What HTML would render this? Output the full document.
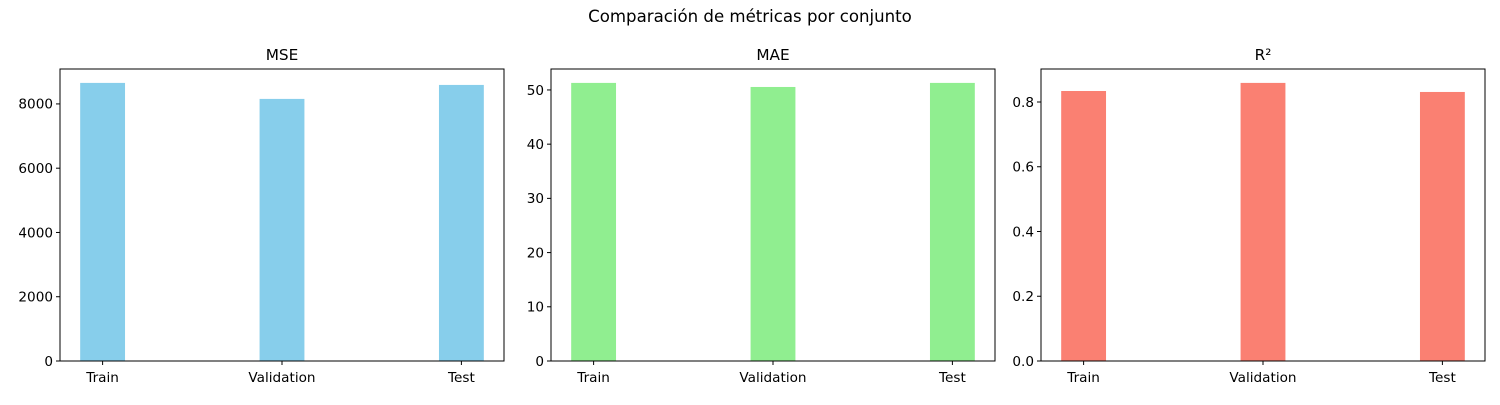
<!DOCTYPE html>
<html><head><meta charset="utf-8"><style>
body{margin:0;background:#fff;font-family:"Liberation Sans","DejaVu Sans",sans-serif}
svg text{font-family:"DejaVu Sans","Liberation Sans",sans-serif}
</style></head><body>
<svg id="c" width="1500" height="400" xmlns="http://www.w3.org/2000/svg">
<rect width="1500" height="400" fill="#fff"/>
<text x="750" y="22" text-anchor="middle" font-size="16.6" fill="#000">Comparación de métricas por conjunto</text>
</svg>
<script>
const categories = ["Train","Validation","Test"];
const mseValues = [8654, 8156, 8591];
const maeValues = [51.3, 50.55, 51.3];
const r2Values = [0.834, 0.859, 0.831];
const mseTicks = [0,2000,4000,6000,8000];
const maeTicks = [0,10,20,30,40,50];
const r2Ticks = [0,0.2,0.4,0.6,0.8];
const r2TickLabels = ["0.0","0.2","0.4","0.6","0.8"];

const svg = document.getElementById('c');
const NS = 'http://www.w3.org/2000/svg';
function mk(tag, attrs){const e=document.createElementNS(NS,tag);for(const k in attrs)e.setAttribute(k,attrs[k]);svg.appendChild(e);return e;}

function panel(x0, title, values, ticks, tickLabels, color, key){
  const x1 = x0 + 444, yTop = 69, yBot = 361;
  const ymax = Math.max(...values) * 1.05;
  const yS = v => yBot - v / ymax * (yBot - yTop);
  const xmin = -0.2375, xmax = 2.2375;
  const xS = v => x0 + (v - xmin) / (xmax - xmin) * (x1 - x0);
  values.forEach((v, i) => {
    const b = mk('rect', {x: xS(i - 0.125), y: yS(v), width: xS(i + 0.125) - xS(i - 0.125), height: yBot - yS(v), fill: color});
    
    
  });
  const fr = mk('rect', {x: x0, y: yTop, width: x1 - x0, height: yBot - yTop, fill: 'none', stroke: '#000', 'stroke-width': 1});
  
  
  ticks.forEach((t, i) => {
    const y = yS(t);
    mk('line', {x1: x0 - 4, x2: x0, y1: y, y2: y, stroke: '#000'});
    const tx = mk('text', {x: x0 - 7, y: y + 4.8, 'text-anchor': 'end', 'font-size': 13.6, fill: '#000'});
    tx.textContent = tickLabels ? tickLabels[i] : String(t);
    
    
  });
  categories.forEach((c, i) => {
    const x = xS(i);
    mk('line', {x1: x, x2: x, y1: yBot, y2: yBot + 4, stroke: '#000'});
    const tx = mk('text', {x: x, y: yBot + 21, 'text-anchor': 'middle', 'font-size': 13.6, fill: '#000'});
    tx.textContent = c;
    
    
  });
  const tt = mk('text', {x: (x0 + x1) / 2, y: 60, 'text-anchor': 'middle', 'font-size': 15.3, fill: '#000'});
  tt.textContent = title;
  
  
}
panel(60, 'MSE', mseValues, mseTicks, null, '#87ceeb', 'mse');
panel(551, 'MAE', maeValues, maeTicks, null, '#90ee90', 'mae');
panel(1041, 'R²', r2Values, r2Ticks, r2TickLabels, '#fa8072', 'r2');
</script>
</body></html>
